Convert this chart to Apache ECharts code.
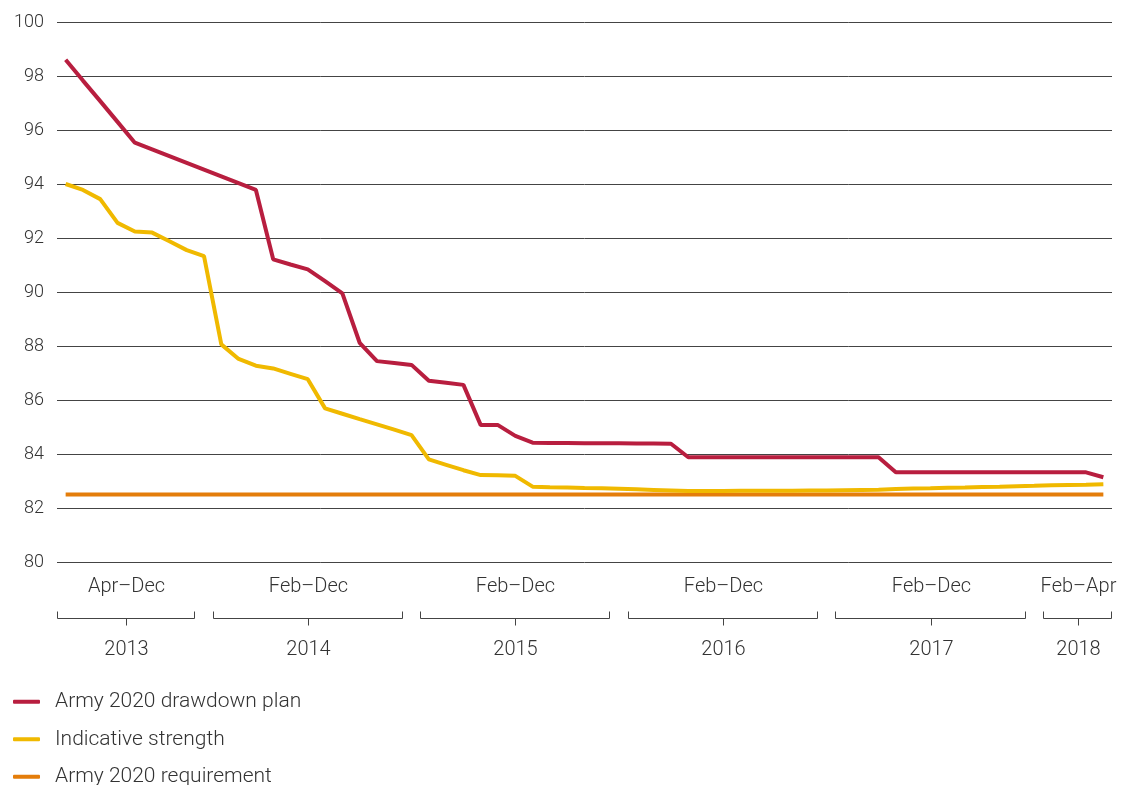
<!DOCTYPE html>
<html>
<head>
<meta charset="utf-8">
<script src="https://cdn.jsdelivr.net/npm/echarts@6/dist/echarts.min.js"></script>
<style>
  html, body { margin: 0; padding: 0; background: #fff; }
  #chart { width: 1133px; height: 785px; }
</style>
</head>
<body>
<div id="chart"></div>
<script>
// Monthly categories, Apr 2013 to Apr 2018
const monthNames = ['Jan','Feb','Mar','Apr','May','Jun','Jul','Aug','Sep','Oct','Nov','Dec'];
const categories = [];
for (let y = 2013; y <= 2018; y++) {
  for (let m = 0; m < 12; m++) {
    if (y === 2013 && m < 3) continue;
    if (y === 2018 && m > 3) continue;
    categories.push(monthNames[m] + ' ' + y);
  }
}

// Army strength, thousands
const drawdownPlan = [
  98.6, 97.83, 97.07, 96.3, 95.53, 95.28, 95.03, 94.78, 94.53,
  94.28, 94.03, 93.78, 91.21, 91.02, 90.84, 90.4, 89.95, 88.12, 87.44, 87.37, 87.3,
  86.71, 86.64, 86.56, 85.07, 85.07, 84.67, 84.42, 84.41, 84.41, 84.4, 84.4, 84.4,
  84.39, 84.39, 84.38, 83.88, 83.88, 83.88, 83.88, 83.88, 83.88, 83.88, 83.88, 83.88,
  83.88, 83.88, 83.88, 83.32, 83.32, 83.32, 83.32, 83.32, 83.32, 83.32, 83.32, 83.32,
  83.32, 83.32, 83.32, 83.14
];
const indicativeStrength = [
  94.0, 93.78, 93.44, 92.56, 92.24, 92.2, 91.88, 91.55, 91.33,
  88.06, 87.52, 87.27, 87.17, 86.97, 86.77, 85.69, 85.49, 85.29, 85.1, 84.9, 84.7,
  83.8, 83.6, 83.4, 83.22, 83.21, 83.19, 82.79, 82.77, 82.76, 82.74, 82.73, 82.71,
  82.69, 82.67, 82.65, 82.63, 82.63, 82.63, 82.64, 82.64, 82.64, 82.64, 82.65, 82.65,
  82.66, 82.67, 82.68, 82.7, 82.72, 82.73, 82.75, 82.76, 82.78, 82.79, 82.81, 82.82,
  82.84, 82.85, 82.86, 82.88
];
const requirement = categories.map(() => 82.5);

// Year groups under the axis: first month index, end index (exclusive), labels
const spanStart = [0, 9, 21, 33, 45, 57];
const spanEnd   = [8, 20, 32, 44, 56, 61];
const rangeLabels = ['Apr\u2013Dec', 'Feb\u2013Dec', 'Feb\u2013Dec', 'Feb\u2013Dec', 'Feb\u2013Dec', 'Feb\u2013Apr'];
const yearLabels = ['2013', '2014', '2015', '2016', '2017', '2018'];

const FONT = 'Roboto, "Liberation Sans", sans-serif';
const TEXT_COLOR = '#333';
const LINE_COLOR = '#444';

const chart = echarts.init(document.getElementById('chart'), null, { renderer: 'canvas' });

chart.setOption({
  animation: false,
  backgroundColor: '#fff',
  grid: { left: 57, right: 21, top: 22, height: 540, containLabel: false },
  legend: {
    orient: 'vertical',
    left: 13,
    top: 690,
    height: 200,
    padding: 0,
    itemWidth: 27,
    itemHeight: 4,
    itemGap: 14,
    icon: 'roundRect',
    data: ['Army 2020 drawdown plan', 'Indicative strength', 'Army 2020 requirement'],
    textStyle: { fontFamily: FONT, fontWeight: 300, fontSize: 21, lineHeight: 23.5, color: TEXT_COLOR, padding: [0, 0, 0, 10] }
  },
  xAxis: {
    type: 'category',
    data: categories,
    boundaryGap: true,
    axisLine: { show: false },
    axisTick: { show: false },
    axisLabel: { show: false },
    splitLine: { show: false }
  },
  yAxis: {
    type: 'value',
    min: 80,
    max: 100,
    interval: 2,
    axisLine: { show: false },
    axisTick: { show: false },
    axisLabel: { fontFamily: FONT, fontWeight: 300, fontSize: 18, color: TEXT_COLOR, margin: 13 },
    splitLine: { lineStyle: { color: LINE_COLOR, width: 1 } }
  },
  series: [
    {
      name: 'Army 2020 requirement',
      type: 'line',
      data: requirement,
      symbol: 'none',
      lineStyle: { color: '#E47D0A', width: 4 },
      itemStyle: { color: '#E47D0A' },
      z: 3
    },
    {
      name: 'Indicative strength',
      type: 'line',
      data: indicativeStrength,
      symbol: 'none',
      lineStyle: { color: '#F0B900', width: 4 },
      itemStyle: { color: '#F0B900' },
      z: 4
    },
    {
      name: 'Army 2020 drawdown plan',
      type: 'line',
      data: drawdownPlan,
      symbol: 'none',
      lineStyle: { color: '#B81E3F', width: 4 },
      itemStyle: { color: '#B81E3F' },
      z: 5
    },
    {
      // Year brackets and month-range labels below the plot
      name: 'yearGroups',
      type: 'custom',
      silent: true,
      data: spanStart.map((s, i) => [s, 80, spanEnd[i]]),
      encode: { x: 0, y: 1 },
      renderItem: function (params, api) {
        const i = params.dataIndex;
        const bw = api.size([1, 0])[0];
        const a = api.coord([api.value(0), 80]);
        const b = api.coord([api.value(2) - 1, 80]);
        const x0 = Math.round(a[0] - bw / 2) + 0.5;
        const x1 = Math.round(b[0] + bw / 2) - 0.5;
        const y = a[1];
        const yb = Math.round(y + 56) + 0.5;
        const mid = Math.round((x0 + x1) / 2) + 0.5;
        const txt = { fontFamily: FONT, fontWeight: 300, fontSize: 20, fill: TEXT_COLOR, align: 'center', verticalAlign: 'middle' };
        return {
          type: 'group',
          children: [
            { type: 'polyline', shape: { points: [[x0, yb - 7], [x0, yb], [x1, yb], [x1, yb - 7]] },
              style: { stroke: LINE_COLOR, lineWidth: 1, fill: null } },
            { type: 'line', shape: { x1: mid, y1: yb, x2: mid, y2: yb + 7 },
              style: { stroke: LINE_COLOR, lineWidth: 1 } },
            { type: 'text', x: mid, y: y + 25, style: Object.assign({ text: rangeLabels[i] }, txt) },
            { type: 'text', x: mid, y: y + 88, style: Object.assign({ text: yearLabels[i] }, txt) }
          ]
        };
      },
      z: 2
    }
  ]
});
</script>
</body>
</html>
